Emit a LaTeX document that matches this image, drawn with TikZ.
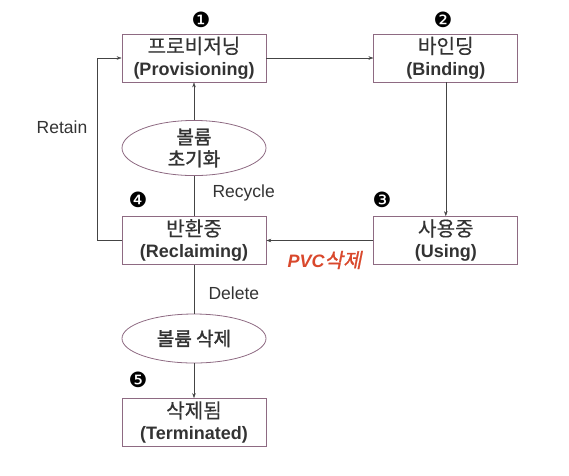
\documentclass[tikz,border=0pt]{standalone}
\usepackage{fontspec}
\setmainfont{Liberation Sans}
\newfontfamily\kr[Scale=1.12,FakeBold=0.3]{Noto Sans CJK KR}
\newfontfamily\krbold[Scale=1.12,FakeBold=1.6]{Noto Sans CJK KR}
\newfontfamily\krit[Scale=1.12,FakeSlant=0.2,FakeBold=1]{Noto Sans CJK KR}
\newfontfamily\dingfont{DejaVu Sans}
\usetikzlibrary{positioning,shapes.geometric,arrows.meta}
\definecolor{boxline}{HTML}{8E6A82}
\definecolor{conline}{HTML}{444444}
\definecolor{txt}{HTML}{333333}
\definecolor{pvcred}{HTML}{D9482C}
\newcommand{\twoline}[2]{{\kr #1}\\{\bfseries #2}}

\begin{document}
\begin{tikzpicture}[x=1pt, y=-1pt, >={Stealth[length=5pt,width=3.5pt]},
    state/.style={rectangle, draw=boxline, thick, minimum width=144pt, minimum height=48pt, inner sep=0pt, align=center, text=txt, font=\fontsize{18}{22}\selectfont},
    action/.style={ellipse, draw=boxline, thick, minimum width=144pt, minimum height=49pt, inner sep=0pt, align=center, text=txt, font=\fontsize{17}{22}\selectfont\krbold},
    stepno/.style={font=\fontsize{21}{21}\selectfont\dingfont},
    lbl/.style={text=txt, font=\fontsize{17.5}{20}\selectfont}]
    \useasboundingbox (0,0) rectangle (569,475);
    \node [state] at (194,58)(prov){\twoline{프로비저닝}{(Provisioning)}};
    \node [state, right=107pt of prov](bind){\twoline{바인딩}{(Binding)}};
    \node [state] at (194,240.5)(recl){\twoline{반환중}{(Reclaiming)}};
    \node [state, right=107pt of recl](using){\twoline{사용중}{(Using)}};
    \node [state] at (194,422.5)(term){\twoline{삭제됨}{(Terminated)}};
    \node [action] at (194,148)(init){볼륨\\초기화};
    \node [action] at (194,338.5)(del){볼륨 삭제};
    % step numbers
    \node [stepno] at (201,20)(n1){❶};
    \node [stepno] at (443,20)(n2){❷};
    \node [stepno] at (382,200)(n3){❸};
    \node [stepno] at (138,200)(n4){❹};
    \node [stepno] at (138,380)(n5){❺};
    \draw [->, conline] (prov) -- (bind);
    \draw [->, conline] (bind) -- (using);
    \draw [->, conline] (using) -- (recl);
    \draw [conline] (recl) -- (init);
    \draw [->, conline] (init) -- (prov);
    \draw [conline] (recl) -- (del);
    \draw [->, conline] (del) -- (term);
    \draw [->, conline] (recl.west) --++ (-24,0) |- (prov.west);
    \node [lbl] at (62,127)(retain){Retain};
    \node [lbl, anchor=west] at (209,193)(recycle){Recycle};
    \node [lbl, anchor=west] at (205,293)(delete){Delete};
    \node [anchor=west, text=pvcred, font=\fontsize{18}{20}\selectfont\bfseries\itshape] at (284,260)(pvc){PVC{\krit\mdseries 삭제}};
\end{tikzpicture}
\end{document}
